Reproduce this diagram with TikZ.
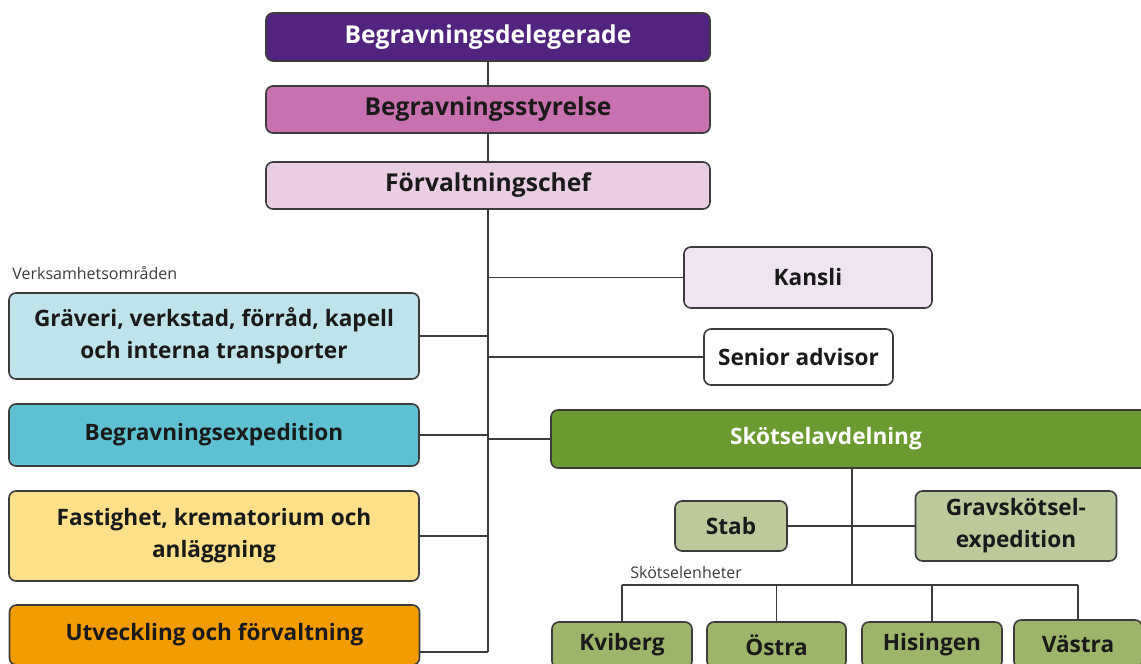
\documentclass[tikz,border=0pt]{standalone}
\usepackage{fontspec}
\setmainfont{Open Sans}
\usetikzlibrary{positioning}
\definecolor{linecol}{HTML}{3C3C3C}
\definecolor{inkcol}{HTML}{1A1A1A}
\definecolor{delegcol}{HTML}{52247F}
\definecolor{styrcol}{HTML}{C871B1}
\definecolor{chefcol}{HTML}{E8CDE3}
\definecolor{kanslicol}{HTML}{EEE5F1}
\definecolor{gravcol}{HTML}{BFE3EA}
\definecolor{bexpcol}{HTML}{5EC1D1}
\definecolor{fastcol}{HTML}{FEE08B}
\definecolor{utvcol}{HTML}{F39C00}
\definecolor{skotcol}{HTML}{6A9A30}
\definecolor{stabcol}{HTML}{BCC99B}
\definecolor{enhetcol}{HTML}{9CB56B}

\begin{document}
\begin{tikzpicture}[x=0.5pt,y=-0.5pt,
    box/.style={draw=linecol, line width=0.8pt, rounded corners=3.5pt, inner sep=0pt,
      align=center, text=inkcol, font=\bfseries\fontsize{11.3}{16}\selectfont},
    topbox/.style={box, minimum width=222pt, font=\bfseries\fontsize{12.3}{16}\selectfont},
    link/.style={draw=linecol, line width=0.8pt},
    smalltext/.style={anchor=west, inner sep=0pt, text=linecol, font=\fontsize{8}{10}\selectfont}]
  \clip (0,0) rectangle (1141,664);
  \useasboundingbox (0,0) rectangle (1141,664);

  % top of the chain
  \node[topbox, fill=delegcol, text=white, minimum height=24pt] (deleg) at (488,37) {Begravningsdelegerade};
  \node[topbox, fill=styrcol, minimum height=23.5pt] (styr) at (488,109.5) {Begravningsstyrelse};
  \node[topbox, fill=chefcol, minimum height=23.5pt] (chef) at (488,185.5) {Förvaltningschef};

  % staff to the right
  \node[box, fill=kanslicol, minimum width=124pt, minimum height=30.5pt] (kansli) at (808,277.5) {Kansli};
  \node[box, fill=white, minimum width=94.5pt, minimum height=28pt] (senior) at (798.5,357) {Senior advisor};

  % verksamhetsomraden
  \node[smalltext] (verklbl) at (12,273) {Verksamhetsområden};
  \node[box, fill=gravcol, minimum width=205pt, minimum height=43pt] (graveri) at (214,336) {Gräveri, verkstad, förråd, kapell\\och interna transporter};
  \node[box, fill=bexpcol, minimum width=205pt, minimum height=31pt] (bexp) at (214,435) {Begravningsexpedition};
  \node[box, fill=fastcol, minimum width=205pt, minimum height=45pt] (fast) at (214,536) {Fastighet, krematorium och\\anläggning};
  \node[box, fill=utvcol, minimum width=205pt, minimum height=30pt] (utv) at (214.5,635) {Utveckling och förvaltning};

  % skotselavdelning
  \node[box, fill=skotcol, text=white, minimum width=304.5pt, minimum height=29pt] (skot) at (855.5,439) {Skötselavdelning\hspace*{29.5pt}};
  \node[box, fill=stabcol, minimum width=56pt, minimum height=25pt] (stab) at (731,526) {Stab};
  \node[box, fill=stabcol, minimum width=100.5pt, minimum height=35pt] (gravexp) at (1016,526) {Gravskötsel-\\expedition};
  \node[smalltext] (enhlbl) at (630,572) {Skötselenheter};
  \node[box, fill=enhetcol, minimum width=70pt, minimum height=23pt] (kvi) at (622,645) {Kviberg};
  \node[box, fill=enhetcol, minimum width=69.5pt, minimum height=23pt] (ost) at (776.5,645) {Östra};
  \node[box, fill=enhetcol, minimum width=70pt, minimum height=23pt] (his) at (932,645) {Hisingen};
  \node[box, fill=enhetcol, minimum width=64pt, minimum height=24pt] (vas) at (1078,644) {Västra};

  % connectors
  \coordinate (trunkend) at (488,652);
  \coordinate (bar) at (852,585);
  \draw[link] (deleg) -- (styr);
  \draw[link] (styr) -- (chef);
  \draw[link] (chef.south) -- (trunkend);
  \draw[link] (trunkend) -- (utv.east |- trunkend);
  \foreach \blk in {graveri, bexp, fast, kansli, senior, skot}
    \draw[link] (\blk) -- (\blk -| trunkend);
  \draw[link] (skot.south -| bar) -- (bar);
  \draw[link] (stab.east) -- (gravexp.west);
  \draw[link] (kvi.north |- bar) -- (vas.north |- bar);
  \foreach \unit in {kvi, ost, his, vas}
    \draw[link] (\unit.north |- bar) -- (\unit.north);
\end{tikzpicture}
\end{document}
